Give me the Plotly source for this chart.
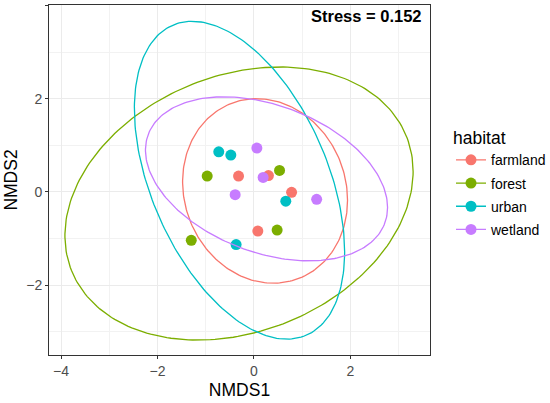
import numpy as np
import plotly.graph_objs as go

# site scores per habitat (NMDS1, NMDS2)
habitats = ['farmland', 'forest', 'urban', 'wetland']
colors = ['#F8766D', '#7CAE00', '#00BFC4', '#C77CFF']

farmland_x = [-0.32, 0.30, 0.78, 0.08]
farmland_y = [0.34, 0.35, -0.01, -0.84]
forest_x = [-0.97, 0.53, 0.48, -1.30]
forest_y = [0.34, 0.46, -0.82, -1.04]
urban_x = [-0.73, -0.48, 0.66, -0.37]
urban_y = [0.86, 0.79, -0.20, -1.13]
wetland_x = [0.06, 0.19, -0.39, 1.30]
wetland_y = [0.94, 0.31, -0.06, -0.16]

# ellipse parameters: centre, half extents, correlation
ell_cx = [0.23, -0.31, -0.30, 0.26]
ell_cy = [0.02, -0.25, 0.25, 0.28]
ell_rx = [1.71, 3.61, 2.18, 2.51]
ell_ry = [1.98, 2.93, 3.41, 1.76]
ell_rho = [-0.10, 0.235, -0.45, -0.35]

stress = 0.152

xs = [farmland_x, forest_x, urban_x, wetland_x]
ys = [farmland_y, forest_y, urban_y, wetland_y]

t = np.linspace(0, 2 * np.pi, 240)
traces = []
for i, name in enumerate(habitats):
    ex = ell_cx[i] + ell_rx[i] * np.cos(t)
    ey = ell_cy[i] + ell_ry[i] * (ell_rho[i] * np.cos(t)
                                  + np.sqrt(1 - ell_rho[i] ** 2) * np.sin(t))
    # points separated by gaps so only the ellipse gets a line,
    # markers on the ellipse itself are transparent
    px, py, mc = [], [], []
    for a, b in zip(xs[i], ys[i]):
        px += [a, None]
        py += [b, None]
        mc += [colors[i], colors[i]]
    px += list(ex)
    py += list(ey)
    mc += ['rgba(0,0,0,0)'] * len(ex)
    traces.append(go.Scatter(x=px, y=py, name=name, mode='lines+markers',
                             legendgroup=name,
                             line=dict(color=colors[i], width=1.3),
                             marker=dict(color=mc, size=11,
                                         line=dict(width=0)),
                             hoverinfo='skip'))

axis_common = dict(showgrid=True, gridcolor='#EBEBEB', gridwidth=1.1,
                   zeroline=False, showline=True, mirror=True,
                   linecolor='#333333', linewidth=1,
                   ticks='outside', ticklen=3, tickcolor='#333333',
                   tickfont=dict(size=14, color='#4D4D4D'),
                   minor=dict(dtick=1, showgrid=True, gridcolor='#F2F2F2',
                              gridwidth=0.6, ticklen=0))

mylayout = go.Layout(
    width=550, height=403,
    margin=dict(l=49, r=120, t=5, b=48),
    paper_bgcolor='white', plot_bgcolor='white',
    font=dict(family='Liberation Sans, Arial, sans-serif', color='black'),
    xaxis=dict(axis_common, range=[-4.25, 3.65], dtick=2, tick0=0,
               title=dict(text='NMDS1', font=dict(size=17.5), standoff=5)),
    yaxis=dict(axis_common, range=[-3.5, 4.01], dtick=2, tick0=0,
               title=dict(text='NMDS2', font=dict(size=17.5), standoff=4)),
    # container ref so the legend does not squeeze the panel
    legend=dict(xref='container', x=0.82, y=0.49,
                xanchor='left', yanchor='middle',
                title=dict(text='habitat', font=dict(size=17.5)),
                font=dict(size=14),
                tracegroupgap=2, bgcolor='rgba(0,0,0,0)'),
    annotations=[dict(text='<b>Stress = %.3f</b>' % stress,
                      xref='paper', yref='paper', x=0.985, y=0.968,
                      xanchor='right', yanchor='middle', showarrow=False,
                      font=dict(size=16.5, color='black'))],
)

fig = go.Figure(data=traces, layout=mylayout)
# drop the default page margin so the figure sits at the window corner
fig.write_html("out.html", config={'displayModeBar': False},
               post_script="document.body.style.margin='0';")
